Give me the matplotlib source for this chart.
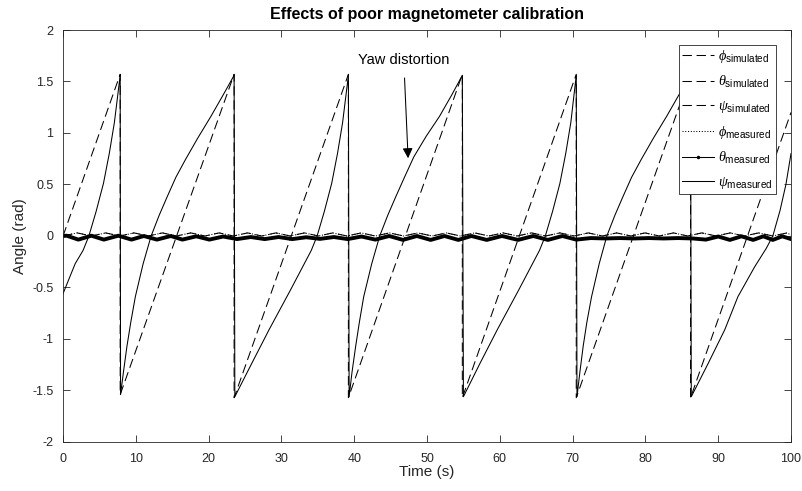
import matplotlib
matplotlib.use('Agg')
import matplotlib.pyplot as plt
from matplotlib.lines import Line2D

plt.rcParams['font.family'] = ['Liberation Sans', 'DejaVu Sans']
plt.rcParams['mathtext.fontset'] = 'custom'
plt.rcParams['mathtext.it'] = 'Liberation Serif:italic'
plt.rcParams['mathtext.rm'] = 'Liberation Sans'

# simulated yaw (sawtooth, corners)
psi_sim_t = [0, 7.85, 7.85, 23.5, 23.5, 39.2, 39.2, 54.85, 54.85, 70.5, 70.5, 86.2, 86.2, 100]
psi_sim_v = [0, 1.57, -1.54, 1.57, -1.57, 1.57, -1.57, 1.57, -1.57, 1.57, -1.57, 1.57, -1.57, 1.2]

# measured yaw (distorted)
psi_meas_t = [0, 0.8, 1.66, 2.75, 3.55, 4.55, 5.55, 6.35, 7.05, 7.85,
              7.9, 8.3, 8.78, 9.3, 9.93, 11.0, 12.1, 13.2, 14.3, 15.5, 16.8, 18.5, 20.3, 22.0, 23.5,
              23.6, 25.9, 28.3, 31.2, 34.1, 34.9, 35.9, 36.9, 37.7, 38.4, 39.2,
              39.3, 39.7, 40.2, 40.7, 41.3, 42.4, 43.5, 44.6, 45.7, 46.9, 48.2, 49.9, 51.7, 53.4, 54.85,
              55.0, 57.25, 59.65, 62.55, 65.45, 66.25, 67.25, 68.25, 69.05, 69.75, 70.5,
              70.6, 71.0, 71.45, 71.95, 72.6, 73.65, 74.7, 75.8, 76.9, 78.1, 79.4, 81.1, 82.9, 84.6, 86.2,
              86.3, 88.6, 90.9, 92.7, 95.0, 96.6, 97.5, 98.5, 99.3, 100]
psi_meas_v = [-0.56, -0.42, -0.27, -0.14, 0, 0.24, 0.51, 0.8, 1.1, 1.56,
              -1.54, -1.32, -1.07, -0.84, -0.59, -0.27, 0, 0.2, 0.38, 0.57, 0.74, 0.95, 1.16, 1.37, 1.56,
              -1.56, -1.24, -0.91, -0.53, -0.14, 0, 0.24, 0.51, 0.8, 1.1, 1.56,
              -1.56, -1.32, -1.07, -0.84, -0.59, -0.27, 0, 0.2, 0.38, 0.57, 0.77, 0.97, 1.16, 1.37, 1.56,
              -1.56, -1.24, -0.91, -0.53, -0.14, 0, 0.24, 0.51, 0.8, 1.1, 1.56,
              -1.56, -1.32, -1.07, -0.84, -0.59, -0.27, 0, 0.2, 0.38, 0.57, 0.74, 0.95, 1.16, 1.37, 1.56,
              -1.56, -1.24, -0.91, -0.59, -0.3, -0.12, 0, 0.25, 0.5, 0.8]

# pitch (thick wavy line), peaks and troughs
theta_t = [0, 0.5, 2.1, 3.9, 5.6, 7.6, 9.4, 11.1, 12.9, 14.8, 16.4, 18.3, 20.1, 22.0,
           23.9, 25.8, 27.7, 29.6, 31.5, 33.4, 35.3, 37.2, 39.1, 41.0, 42.9, 44.8, 46.7,
           48.6, 50.5, 52.4, 54.3, 56.1, 58.2, 60.3, 62.5, 64.6, 66.6, 68.6, 70.5, 72.5,
           74.5, 76.5, 78.5, 80.5, 82.5, 84.5, 86.5, 88.3, 90.0, 91.6, 93.2, 94.8, 96.2,
           97.5, 98.8, 100]
theta_v = [0, 0.003, -0.035, 0.003, -0.035, 0.003, -0.035, 0.0, -0.035, 0.0, -0.035, -0.003,
           -0.035, -0.005, -0.03, -0.01, -0.03, -0.01, -0.03, -0.012, -0.028, -0.01, -0.03,
           -0.005, -0.035, 0.0, -0.038, 0.0, -0.038, 0.0, -0.038, 0.0, -0.038, 0.0, -0.038,
           0.0, -0.038, 0.0, -0.035, -0.02, -0.024, -0.02, -0.024, -0.02, -0.024, -0.02,
           -0.024, -0.035, -0.005, -0.038, -0.003, -0.038, -0.003, -0.038, -0.003, -0.03]

# roll (small humps above zero)
phi_t = [0, 1.95, 3.9, 5.85, 7.8, 9.75, 11.7, 13.65, 15.6, 17.55, 19.5, 21.45, 23.4, 25.35,
         27.3, 29.25, 31.2, 33.15, 35.1, 37.05, 39.0, 40.95, 42.9, 44.85, 46.8, 48.75, 50.7,
         52.65, 54.6, 56.55, 58.5, 60.45, 62.4, 64.35, 66.3, 68.25, 70.2, 72.15, 74.1, 76.05,
         78.0, 79.95, 81.9, 83.85, 85.8, 87.75, 89.7, 91.65, 93.6, 95.55, 97.5, 99.45, 100]
phi_v = [0, 0.03, 0, 0.03, 0, 0.03, 0, 0.03, 0, 0.03, 0, 0.03, 0, 0.03, 0, 0.03, 0, 0.03, 0,
         0.03, 0, 0.03, 0, 0.03, 0, 0.03, 0, 0.03, 0, 0.03, 0, 0.03, 0, 0.03, 0, 0.03, 0, 0.03,
         0, 0.03, 0, 0.03, 0, 0.03, 0, 0.03, 0, 0.03, 0, 0.03, 0, 0.03, 0.01]

fig = plt.figure(figsize=(8.02, 4.91), dpi=100)
ax = fig.add_axes([0.0786, 0.0998, 0.9077, 0.8391])

dash = (9, 4.5)
ax.plot(phi_t, phi_v, color='k', lw=0.75, dashes=dash)
ax.plot(theta_t, theta_v, color='k', lw=0.75, dashes=dash)
ax.plot(psi_sim_t, psi_sim_v, color='k', lw=0.75, dashes=dash)
ax.plot(phi_t, phi_v, color='k', lw=0.75, ls=':')
ax.plot(theta_t, theta_v, color='k', lw=2.8, solid_joinstyle='round')
ax.plot(psi_meas_t, psi_meas_v, color='k', lw=0.75)

ax.set_xlim(0, 100)
ax.set_ylim(-2, 2)
ax.set_xticks(range(0, 101, 10))
ax.set_yticks([-2, -1.5, -1, -0.5, 0, 0.5, 1, 1.5, 2])
ax.set_yticklabels(['-2', '-1.5', '-1', '-0.5', '0', '0.5', '1', '1.5', '2'])
ax.tick_params(direction='in', top=True, right=True, length=5, width=0.6,
               colors='#262626', labelsize=9)
ax.tick_params(axis='x', pad=8)
ax.tick_params(axis='y', pad=7)
for s in ax.spines.values():
    s.set_linewidth(0.6)
    s.set_color('#262626')

ax.set_title('Effects of poor magnetometer calibration', fontsize=11.5, fontweight='bold', pad=8)
ax.set_xlabel('Time (s)', fontsize=11, color='#262626', labelpad=0)
ax.set_ylabel('Angle (rad)', fontsize=11, color='#262626', labelpad=4)

ax.annotate('Yaw distortion', xy=(47.4, 0.755), xytext=(46.8, 1.71),
            ha='center', va='center', fontsize=10.5,
            arrowprops=dict(arrowstyle='-|>', color='k', lw=0.75, mutation_scale=15,
                            shrinkA=6, shrinkB=0))

handles = [Line2D([], [], color='k', lw=0.75, dashes=dash),
           Line2D([], [], color='k', lw=0.75, dashes=dash),
           Line2D([], [], color='k', lw=0.75, dashes=dash),
           Line2D([], [], color='k', lw=0.75, ls=':'),
           Line2D([], [], color='k', lw=0.75, marker='.', markersize=3),
           Line2D([], [], color='k', lw=0.75)]
labels = [r'$\phi_{\mathrm{simulated}}$', r'$\theta_{\mathrm{simulated}}$', r'$\psi_{\mathrm{simulated}}$',
          r'$\phi_{\mathrm{measured}}$', r'$\theta_{\mathrm{measured}}$', r'$\psi_{\mathrm{measured}}$']
leg = ax.legend(handles, labels, loc='upper right', bbox_to_anchor=(0.979, 0.9636),
                borderaxespad=0, fontsize=10.3, handlelength=2.24, labelspacing=0.62,
                handletextpad=0.28, borderpad=0.22, fancybox=False, framealpha=1,
                edgecolor='#262626')
leg.get_frame().set_linewidth(0.6)

fig.savefig('out.png', dpi=100)
